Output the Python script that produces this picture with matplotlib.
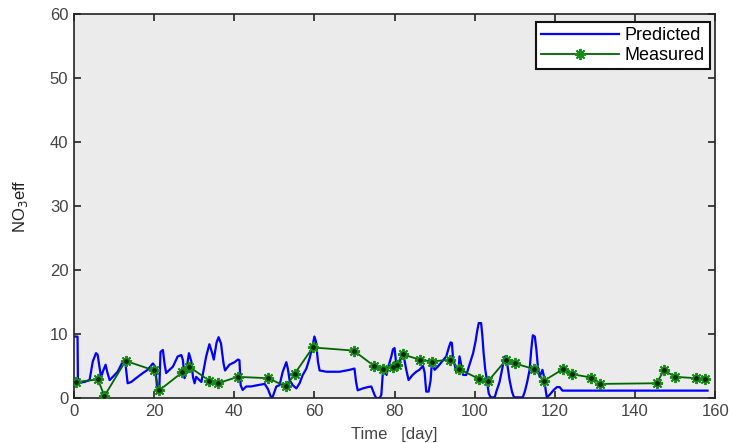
import matplotlib
matplotlib.use("Agg")
import matplotlib.pyplot as plt
import numpy as np

# ---- Predicted NO3 effluent (blue trace) ----
pred_day = [
    0.0, 0.9, 1.0, 2.6, 3.9, 4.7, 5.5, 5.9, 6.4, 6.8, 7.2, 7.9, 8.3, 8.9, 9.7,
    10.9, 12.2, 12.8, 13.4, 14.3, 15.5, 17.2, 18.4, 19.7, 20.3, 20.8, 21.3,
    21.6, 22.2, 22.6, 23.0, 24.7, 25.9, 26.8, 27.2, 27.6, 28.0, 28.7, 29.3,
    29.7, 30.1, 30.5, 31.8, 33.0, 33.8, 34.4, 34.9, 35.6, 36.1, 36.7, 37.3,
    37.7, 38.8, 40.1, 40.9, 41.3, 41.6, 42.1, 43.0, 44.2, 45.8, 47.6, 48.4,
    49.2, 49.6, 50.5, 51.3, 52.1, 53.0, 53.4, 53.8, 54.6, 55.5, 56.3, 57.1,
    58.0, 58.8, 59.5, 60.0, 60.4, 60.9, 61.3, 63.0, 66.3, 68.8, 70.0, 70.4,
    70.8, 72.1, 73.3, 74.2, 75.0, 75.4, 76.3, 76.7, 77.1, 77.5, 78.0, 78.6,
    79.2, 79.6, 80.0, 80.4, 81.1, 81.8, 82.4, 82.9, 83.5, 84.5, 85.4, 86.2,
    87.1, 87.5, 87.9, 88.5, 89.0, 89.3, 90.0, 90.8, 92.1, 92.9, 93.6, 94.0,
    94.3, 94.6, 95.0, 95.4, 96.0, 96.2, 96.7, 97.1, 97.9, 98.7, 99.6, 100.2,
    100.6, 101.0, 101.6, 101.9, 102.2, 102.6, 103.1, 103.5, 104.0, 105.0,
    105.4, 106.2, 106.8, 107.3, 107.6, 108.1, 108.7, 109.3, 109.8, 112.0,
    112.5, 113.1, 113.7, 114.1, 114.5, 115.0, 115.4, 115.8, 116.2, 116.9,
    117.3, 117.7, 118.0, 118.7, 119.7, 120.5, 121.2, 121.9, 158.1,
]
pred_val = [
    9.6, 9.6, 2.4, 2.5, 2.8, 5.7, 7.0, 6.8, 4.7, 3.1, 4.1, 5.2, 4.1, 2.8, 3.3,
    4.1, 5.7, 5.7, 2.3, 2.5, 3.1, 3.9, 4.4, 5.4, 4.9, 1.25, 1.35,
    7.2, 7.5, 5.4, 3.9, 4.9, 6.5, 6.7, 5.9, 3.1, 4.1, 7.0, 5.7,
    3.3, 2.3, 3.3, 2.5, 6.5, 8.4, 7.2, 6.0, 8.7, 9.5, 8.5, 5.5,
    4.3, 5.2, 5.6, 6.0, 5.9, 2.0, 1.25, 1.8, 1.8, 2.0, 2.2, 1.4,
    0.1, 0.2, 1.8, 2.0, 4.1, 5.6, 4.5, 2.8, 2.0, 1.5, 2.3, 3.6,
    4.6, 6.2, 8.0, 9.6, 8.8, 5.6, 4.3, 4.1, 4.1, 4.4, 4.6, 2.5,
    1.2, 1.5, 1.7, 1.8, 0.5, 0.0, 0.0, 0.5, 4.1, 4.5, 3.6, 5.2,
    6.5, 7.6, 7.8, 5.4, 5.4, 6.5, 6.2, 4.5, 2.8, 3.6, 4.1, 4.4,
    5.0, 4.0, 1.0, 1.0, 2.8, 5.4, 4.4, 4.9, 5.9, 6.5, 8.0, 8.7,
    8.6, 6.2, 5.2, 4.1, 4.6, 6.5, 5.0, 3.6, 3.6, 5.2, 7.0, 8.8,
    10.4, 11.7, 11.7, 9.8, 7.2, 4.6, 2.5, 0.7, 0.1, 0.1,
    1.0, 2.5, 4.4, 5.9, 6.5, 5.4, 2.8, 1.0, 0.1, 0.1,
    1.0, 2.5, 4.4, 7.5, 9.8, 9.6, 7.5, 4.6, 3.3, 4.4,
    3.3, 1.25, 0.1, 0.5, 1.25, 1.7, 1.7, 1.15, 1.15,
]

# ---- Measured NO3 effluent (green asterisks) ----
meas_day = [
    0.5, 6.0, 7.6, 12.9, 20.0, 21.3, 27.0, 28.7, 33.8, 35.9, 40.9, 48.4,
    52.9, 55.1, 59.6, 69.8, 74.9, 77.0, 79.5, 80.5, 82.0, 86.3, 89.4, 93.9,
    96.2, 101.0, 103.3, 107.9, 110.0, 114.9, 117.3, 122.0, 124.4, 129.1,
    131.3, 145.4, 147.2, 150.1, 155.1, 157.4,
]
meas_val = [
    2.5, 2.9, 0.3, 5.8, 4.3, 1.2, 4.0, 4.9, 2.7, 2.3, 3.3, 3.1,
    1.8, 3.8, 7.9, 7.4, 5.0, 4.5, 4.9, 5.1, 6.8, 6.0, 5.7, 6.0,
    4.5, 3.0, 2.6, 6.0, 5.4, 4.5, 2.7, 4.5, 3.7, 3.2,
    2.2, 2.3, 4.3, 3.3, 3.1, 3.0,
]

x_ticks = [0, 20, 40, 60, 80, 100, 120, 140, 160]
y_ticks = [0, 10, 20, 30, 40, 50, 60]

plt.rcParams["font.family"] = ["Liberation Sans", "DejaVu Sans"]

fig = plt.figure(figsize=(7.32, 4.43), dpi=100)
ax = fig.add_axes([0.101, 0.1016, 0.876, 0.867])
ax.set_facecolor("#ebebeb")

ax.plot(pred_day, pred_val, color="#0000ff", lw=1.6, label="Predicted", zorder=2)
ax.plot(meas_day, meas_val, color="#006400", lw=1.3, marker=(8, 2, 0), ms=8,
        mec="#1a8c1a", mew=1.4, label="Measured", zorder=3)
# dark centre of each asterisk
ax.plot(meas_day, meas_val, ls="none", marker="o", ms=2.3, color="#002200", zorder=4)

ax.set_xlim(0, 160)
ax.set_ylim(0, 60)
ax.set_xticks(x_ticks)
ax.set_yticks(y_ticks)
ax.tick_params(direction="in", top=True, right=True, length=5, width=1.2,
               labelsize=12, colors="#222222", labelcolor="#444444", pad=4)
for s in ax.spines.values():
    s.set_color("#222222")
    s.set_linewidth(1.2)

ax.set_xlabel("Time   [day]", fontsize=12, color="#444444", labelpad=6)
ax.set_ylabel("NO$_3$eff", fontsize=12, color="#222222", labelpad=14)

leg = ax.legend(loc="upper right", fontsize=13, frameon=True, fancybox=False,
                borderpad=0.3, handlelength=4.3, handletextpad=0.3,
                labelspacing=0.15, bbox_to_anchor=(1.006, 1.003))
leg.get_frame().set_edgecolor("#111111")
leg.get_frame().set_linewidth(1.5)
leg.get_frame().set_facecolor("white")
leg.get_frame().set_alpha(1)

fig.savefig("out.png", dpi=100)
